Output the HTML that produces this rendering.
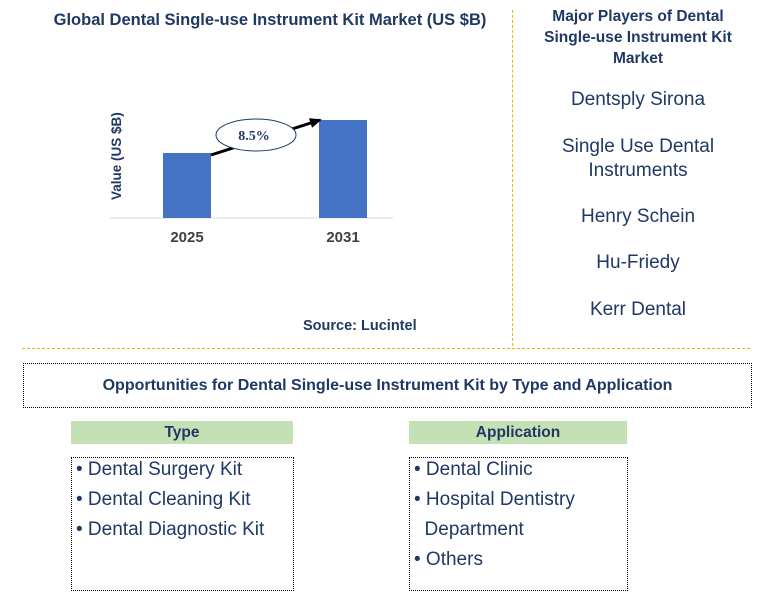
<!DOCTYPE html>
<html><head><meta charset="utf-8"><style>
body{margin:0;width:764px;height:610px;background:#fff;font-family:"Liberation Sans",Arial,sans-serif;position:relative;overflow:hidden}
.a{position:absolute}
.t{color:#1f3864;font-weight:bold}
.pl{position:absolute;left:520px;width:236px;text-align:center;font-size:19px;color:#1f3864;line-height:24px}
.li{font-size:19px;color:#1f3864;line-height:30px}
</style></head><body>
<div class="a t" style="left:20px;top:11px;width:500px;text-align:center;font-size:16.5px">Global Dental Single-use Instrument Kit Market (US $B)</div>
<svg class="a" style="left:0;top:0" width="764" height="350">
<text transform="translate(121,200) rotate(-90)" font-size="13.5" font-weight="bold" fill="#1f3864" font-family="Liberation Sans">Value (US $B)</text>
<line x1="110" y1="218" x2="393" y2="218" stroke="#d9d9d9" stroke-width="1"/>
<g id="bars"></g>
<defs><marker id="ah" markerUnits="userSpaceOnUse" markerWidth="12" markerHeight="10" refX="10" refY="5" orient="auto"><path d="M0,0 L12,5 L0,10 z" fill="#000"/></marker></defs>
<line x1="211" y1="155" x2="320" y2="120" stroke="#000" stroke-width="3" marker-end="url(#ah)"/>
<ellipse cx="256" cy="135" rx="40" ry="16" fill="#fff" stroke="#1f3864" stroke-width="1"/>
<text x="254" y="140" text-anchor="middle" font-size="14" font-weight="bold" fill="#1f3864" font-family="Liberation Serif">8.5%</text>
</svg>
<div class="a t" style="left:303px;top:318px;font-size:14.5px">Source: Lucintel</div>
<div class="a" style="left:512px;top:10px;height:336px;border-left:1px dashed #e6b800"></div>
<div class="a" style="left:22px;top:348px;width:728px;border-top:1px dashed #e6b800"></div>
<div class="a t" style="left:533px;top:6px;width:210px;text-align:center;font-size:15.5px;line-height:21px">Major Players of Dental Single-use Instrument Kit Market</div>
<div class="pl" style="top:88px">Dentsply Sirona</div>
<div class="pl" style="top:135px">Single Use Dental<br>Instruments</div>
<div class="pl" style="top:205px">Henry Schein</div>
<div class="pl" style="top:251px">Hu-Friedy</div>
<div class="pl" style="top:298px">Kerr Dental</div>
<div class="a t" style="left:23px;top:363px;width:727px;height:43px;border:1px dotted #000;text-align:center;line-height:43px;font-size:16px">Opportunities for Dental Single-use Instrument Kit by Type and Application</div>
<div class="a t" style="left:71px;top:421px;width:222px;height:23px;background:#c5e0b4;text-align:center;line-height:23px;font-size:15.5px">Type</div>
<div class="a" style="left:71px;top:457px;width:221px;height:132px;border:1px dotted #000">
<div class="li" style="padding:0 0 0 4px;margin-top:-3px">• Dental Surgery Kit<br>• Dental Cleaning Kit<br>• Dental Diagnostic Kit</div></div>
<div class="a t" style="left:409px;top:421px;width:218px;height:23px;background:#c5e0b4;text-align:center;line-height:23px;font-size:15.5px">Application</div>
<div class="a" style="left:409px;top:457px;width:217px;height:132px;border:1px dotted #000">
<div class="li" style="padding:0 0 0 4px;margin-top:-3px">• Dental Clinic<br>• Hospital Dentistry<br>&nbsp;&nbsp;Department<br>• Others</div></div>
<script>
const categories=["2025","2031"];
const values=[1.3,1.96];
const xCenters=[187,343];
function yH(v){return v*50;}
const g=document.getElementById('bars');
const ns="http://www.w3.org/2000/svg";
categories.forEach((c,i)=>{
 const r=document.createElementNS(ns,'rect');
 
 
 const h=yH(values[i]);
 r.setAttribute('x',xCenters[i]-24);r.setAttribute('width',48);
 r.setAttribute('y',218-h);r.setAttribute('height',h);r.setAttribute('fill','#4472c4');
 g.appendChild(r);
 const t=document.createElementNS(ns,'text');
 
 
 t.setAttribute('x',xCenters[i]);t.setAttribute('y',242);t.setAttribute('text-anchor','middle');
 t.setAttribute('font-size','15');t.setAttribute('font-weight','bold');t.setAttribute('fill','#404040');
 t.setAttribute('font-family','Liberation Sans');
 t.textContent=c;g.appendChild(t);
});
</script>
</body></html>
